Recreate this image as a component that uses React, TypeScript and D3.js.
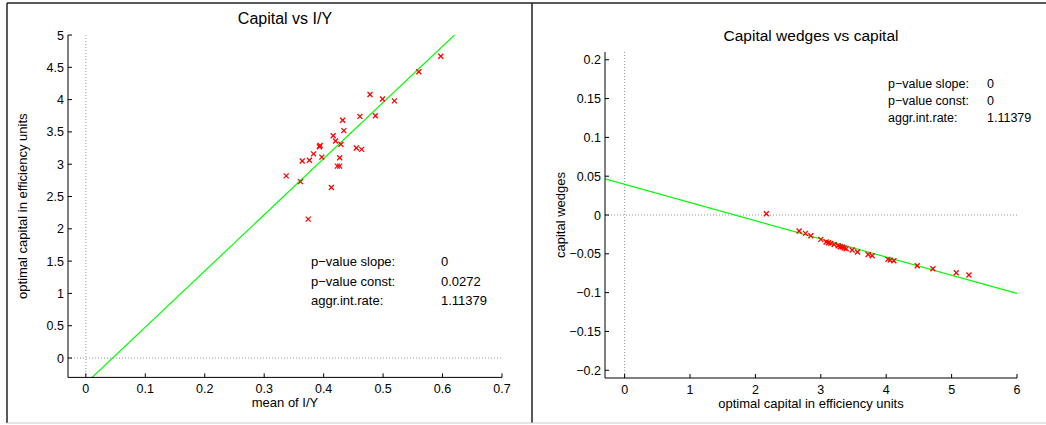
import React from "react";
import * as d3 from "d3";

// ---------- data ----------
const leftIY = [0.597, 0.56, 0.478, 0.499, 0.519, 0.461, 0.487, 0.432, 0.434, 0.416, 0.42, 0.429, 0.394, 0.393, 0.455, 0.464, 0.383, 0.397, 0.427, 0.364, 0.376, 0.423, 0.427, 0.337, 0.361, 0.413, 0.374];
const leftCapital = [4.67, 4.43, 4.08, 4.01, 3.98, 3.74, 3.75, 3.68, 3.52, 3.44, 3.36, 3.31, 3.29, 3.27, 3.25, 3.23, 3.16, 3.11, 3.1, 3.05, 3.06, 2.97, 2.97, 2.82, 2.73, 2.64, 2.15];
const leftFit = { slope: 8.696, intercept: -0.392 };

const rightCapital = [2.167, 2.668, 2.765, 2.847, 3.0, 3.081, 3.117, 3.153, 3.204, 3.265, 3.296, 3.326, 3.357, 3.388, 3.479, 3.561, 3.724, 3.786, 4.026, 4.061, 4.117, 4.474, 4.714, 5.071, 5.265];
const rightWedges = [0.0017, -0.0206, -0.0237, -0.0267, -0.0314, -0.0348, -0.0357, -0.0366, -0.0379, -0.0396, -0.0409, -0.0413, -0.0426, -0.0434, -0.0452, -0.0477, -0.0508, -0.0525, -0.0572, -0.0581, -0.0589, -0.0654, -0.0693, -0.0744, -0.0774];
const rightFit = { slope: -0.02343, intercept: 0.0395 };

const leftXTicks = [0, 0.1, 0.2, 0.3, 0.4, 0.5, 0.6, 0.7];
const leftYTicks = [0, 0.5, 1, 1.5, 2, 2.5, 3, 3.5, 4, 4.5, 5];
const rightXTicks = [0, 1, 2, 3, 4, 5, 6];
const rightYTicks = [-0.2, -0.15, -0.1, -0.05, 0, 0.05, 0.1, 0.15, 0.2];

const leftStatsLabels = ["p\u2212value slope:", "p\u2212value const:", "aggr.int.rate:"];
const leftStatsValues = ["0", "0.0272", "1.11379"];
const rightStatsLabels = ["p\u2212value slope:", "p\u2212value const:", "aggr.int.rate:"];
const rightStatsValues = ["0", "0", "1.11379"];

const FONT = "'Liberation Sans', Arial, Helvetica, sans-serif";
const fmt = (v: number) => {
  const s = String(+v.toFixed(4));
  return s.replace("-", "\u2212");
};

type PanelProps = {
  id: string;
  xs: number[];
  ys: number[];
  fit: { slope: number; intercept: number };
  xDomain: [number, number];
  yDomain: [number, number];
  xRange: [number, number];
  yRange: [number, number];
  xTicks: number[];
  yTicks: number[];
  title: string;
  titleY: number;
  titleSize: number;
  xLabel: string;
  xLabelY: number;
  yLabel: string;
  yLabelX: number;
  statsLabels: string[];
  statsValues: string[];
  statsX: number;
  statsValX: number;
  statsY: number;
  statsDy: number;
  statsFont: number;
};

function Panel(p: PanelProps) {
  const x = d3.scaleLinear().domain(p.xDomain).range(p.xRange);
  const y = d3.scaleLinear().domain(p.yDomain).range(p.yRange);
  const [x0, x1] = p.xRange;
  const [yb, yt] = p.yRange;
  const lineGen = d3
    .line<number>()
    .x((d) => x(d))
    .y((d) => y(p.fit.intercept + p.fit.slope * d));
  const ms = 2.5;
  return (
    <g>
      <defs>
        <clipPath id={p.id}>
          <rect x={x0} y={yt} width={x1 - x0} height={yb - yt} />
        </clipPath>
      </defs>
      <text x={(x0 + x1) / 2} y={p.titleY} textAnchor="middle" fontSize={p.titleSize} fontFamily={FONT} fill="#000">
        {p.title}
      </text>
      {/* zero reference lines */}
      <line x1={x(0)} x2={x(0)} y1={yt} y2={yb} stroke="#777" strokeWidth={0.8} strokeDasharray="1,2" />
      <line x1={x0} x2={x1} y1={y(0)} y2={y(0)} stroke="#777" strokeWidth={0.8} strokeDasharray="1,2" />
      {/* fit line */}
      <path
        d={lineGen(p.xDomain) || ""}
        stroke="#00ff00"
        strokeWidth={1.2}
        fill="none"
        clipPath={`url(#${p.id})`}
      />
      {/* markers */}
      {p.xs.map((v, i) => {
        const cx = x(v);
        const cy = y(p.ys[i]);
        return (
          <g key={i} stroke="#ff0000" strokeWidth={1.3}>
            <line x1={cx - ms} y1={cy - ms} x2={cx + ms} y2={cy + ms} />
            <line x1={cx - ms} y1={cy + ms} x2={cx + ms} y2={cy - ms} />
          </g>
        );
      })}
      {/* axes */}
      <line x1={x0} x2={x1} y1={yb} y2={yb} stroke="#000" strokeWidth={1} />
      <line x1={x0} x2={x0} y1={yt} y2={yb} stroke="#000" strokeWidth={1} />
      {p.xTicks.map((t) => (
        <g key={"xt" + t}>
          <line x1={x(t)} x2={x(t)} y1={yb} y2={yb - 4} stroke="#000" />
          <text x={x(t)} y={yb + 16} textAnchor="middle" fontSize={12.5} fontFamily={FONT} fill="#000">
            {fmt(t)}
          </text>
        </g>
      ))}
      {p.yTicks.map((t) => (
        <g key={"yt" + t}>
          <line x1={x0} x2={x0 + 4} y1={y(t)} y2={y(t)} stroke="#000" />
          <text x={x0 - 4} y={y(t) + 4.5} textAnchor="end" fontSize={12.5} fontFamily={FONT} fill="#000">
            {fmt(t)}
          </text>
        </g>
      ))}
      <text x={(x0 + x1) / 2} y={p.xLabelY} textAnchor="middle" fontSize={13} fontFamily={FONT} fill="#000">
        {p.xLabel}
      </text>
      <text
        transform={`translate(${p.yLabelX},${(yt + yb) / 2}) rotate(-90)`}
        textAnchor="middle"
        fontSize={13}
        fontFamily={FONT}
        fill="#000"
      >
        {p.yLabel}
      </text>
      {p.statsLabels.map((s, i) => (
        <g key={"st" + i}>
          <text x={p.statsX} y={p.statsY + i * p.statsDy} fontSize={p.statsFont} fontFamily={FONT} fill="#000">
            {s}
          </text>
          <text x={p.statsValX} y={p.statsY + i * p.statsDy} fontSize={p.statsFont} fontFamily={FONT} fill="#000">
            {p.statsValues[i]}
          </text>
        </g>
      ))}
    </g>
  );
}

export default function App() {
  return (
    <svg
      width={1046}
      height={425}
      style={{ position: "absolute", left: 0, top: 0, background: "#fff" }}
    >
      <rect x={0} y={0} width={1046} height={425} fill="#fff" />
      {/* frame */}
      <line x1={7} x2={1046} y1={3} y2={3} stroke="#222" strokeWidth={1.5} />
      <line x1={7} x2={7} y1={3} y2={423} stroke="#222" strokeWidth={1.5} />
      <line x1={532} x2={532} y1={3} y2={423} stroke="#222" strokeWidth={1.5} />
      <line x1={7} x2={1046} y1={423} y2={423} stroke="#ccc" strokeWidth={1} />
      <Panel
        id="clipL"
        xs={leftIY}
        ys={leftCapital}
        fit={leftFit}
        xDomain={[-0.03, 0.7]}
        yDomain={[-0.3, 5]}
        xRange={[68, 502]}
        yRange={[377.4, 35]}
        xTicks={leftXTicks}
        yTicks={leftYTicks}
        title="Capital vs I/Y"
        titleY={24}
        titleSize={16}
        xLabel="mean of I/Y"
        xLabelY={407}
        yLabel="optimal capital in efficiency units"
        yLabelX={27}
        statsLabels={leftStatsLabels}
        statsValues={leftStatsValues}
        statsX={311}
        statsValX={441}
        statsY={266}
        statsDy={19.5}
        statsFont={13}
      />
      <Panel
        id="clipR"
        xs={rightCapital}
        ys={rightWedges}
        fit={rightFit}
        xDomain={[-0.3, 6]}
        yDomain={[-0.21, 0.21]}
        xRange={[605, 1017]}
        yRange={[378, 52]}
        xTicks={rightXTicks}
        yTicks={rightYTicks}
        title="Capital wedges vs capital"
        titleY={41}
        titleSize={15.5}
        xLabel="optimal capital in efficiency units"
        xLabelY={408}
        yLabel="capital wedges"
        yLabelX={565}
        statsLabels={rightStatsLabels}
        statsValues={rightStatsValues}
        statsX={888}
        statsValX={987}
        statsY={88}
        statsDy={17}
        statsFont={12.5}
      />
    </svg>
  );
}
